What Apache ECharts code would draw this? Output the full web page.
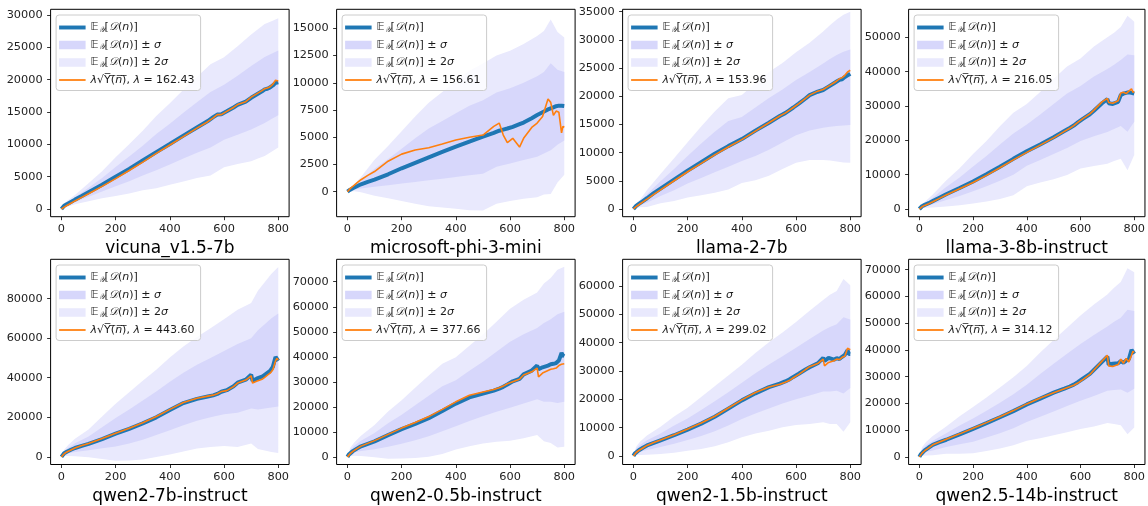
<!DOCTYPE html>
<html><head><meta charset="utf-8">
<script src="https://cdn.jsdelivr.net/npm/echarts@6/dist/echarts.min.js"></script>
<style>html,body{margin:0;padding:0;background:#fff}#c{width:1148px;height:506px}</style>
</head><body><div id="c"></div>
<script>
// ---------------- data ----------------
const X  = [0,5,10,20,35,50,75,100,150,200,250,300,350,400,450,500,540,560,575,590,610,635,650,680,700,705,720,740,750,760,770,780,790,795,800];
const XB = [0,10,25,50,100,150,200,250,300,350,400,450,500,550,600,650,700,725,750,775,800];
const XTICKS = [0,200,400,600,800];

const NAMES = ['vicuna_v1.5-7b','microsoft-phi-3-mini','llama-2-7b','llama-3-8b-instruct','qwen2-7b-instruct','qwen2-0.5b-instruct','qwen2-1.5b-instruct','qwen2.5-14b-instruct'];
const LAMBDAS = ['162.43','156.61','153.96','216.05','443.60','377.66','299.02','314.12'];

const YT_VICUNA = [0,5000,10000,15000,20000,25000,30000];
const YT_PHI    = [0,2500,5000,7500,10000,12500,15000];
const YT_LLAMA2 = [0,5000,10000,15000,20000,25000,30000,35000];
const YT_LLAMA3 = [0,10000,20000,30000,40000,50000];
const YT_Q7B    = [0,20000,40000,60000,80000];
const YT_Q05B   = [0,10000,20000,30000,40000,50000,60000,70000];
const YT_Q15B   = [0,10000,20000,30000,40000,50000,60000];
const YT_Q14B   = [0,10000,20000,30000,40000,50000,60000,70000];

const MEAN_VICUNA = [0,300,500,750,1100,1450,2000,2600,3750,5000,6200,7500,8800,10050,11350,12600,13600,14200,14600,14650,15100,15700,16100,16600,17200,17300,17700,18200,18500,18600,18800,19100,19500,19400,19600];
const FIT_VICUNA  = [0,150,300,550,900,1250,1800,2350,3500,4700,5950,7250,8600,9900,11200,12500,13500,14100,14600,14600,15100,15700,16150,16600,17300,17400,17800,18300,18600,18700,18900,19300,19900,19700,19800];
const SLO_VICUNA  = [0,300,650,1100,1900,2700,3500,4300,5200,6000,6900,7800,8700,9500,10700,11500,12300,12800,13300,13900,14500];
const SHI_VICUNA  = [0,700,1150,1800,3300,4800,6500,8100,9800,11600,13200,14900,16500,18100,19200,20600,22100,22800,23500,24000,24500];

const MEAN_PHI = [0,100,180,320,500,680,900,1100,1600,2150,2650,3150,3650,4130,4600,5050,5400,5600,5700,5800,5950,6200,6350,6750,7040,7100,7300,7550,7650,7750,7850,7900,7900,7850,7870];
const FIT_PHI  = [0,150,280,500,800,1100,1500,1850,2800,3450,3830,4040,4380,4750,5000,5200,6000,6300,5200,4500,4900,4100,4900,5900,6300,6450,6900,8500,8200,7000,7400,7300,5400,6000,5900];
const SLO_PHI  = [0,100,200,300,450,600,750,900,1050,1200,1350,1500,1650,2300,2600,2900,3200,3500,3800,4300,4700];
const SHI_PHI  = [0,260,500,1000,2100,3000,3950,4900,5800,6500,7200,7900,8400,9100,9500,10000,10600,11000,11800,11200,11000];

const MEAN_LLAMA2 = [0,300,550,900,1400,1900,2800,3600,5200,6800,8300,9800,11150,12400,13900,15300,16500,17000,17500,18000,18700,19600,20200,20800,21100,21200,21700,22300,22600,22900,23000,23400,23700,23900,24000];
const FIT_LLAMA2  = [0,200,400,750,1250,1750,2600,3400,5000,6600,8100,9600,11000,12300,13800,15300,16500,17000,17500,18000,18700,19600,20200,20900,21200,21300,21800,22400,22700,23100,23300,23700,24300,24500,24600];
const SLO_LLAMA2  = [0,350,650,1100,2300,3300,4500,5500,6500,7500,8500,9400,10500,11800,13100,13900,14400,14600,14700,14800,14900];
const SHI_LLAMA2  = [0,750,1350,2600,4900,7100,9400,11600,13700,15600,16300,18000,19700,21200,22900,24300,25800,26600,27300,27900,28300];

const MEAN_LLAMA3 = [0,500,800,1200,1700,2300,3300,4300,6100,8000,10100,12300,14600,16800,18800,20900,22700,23600,24300,25200,26300,27600,28600,30800,32000,30800,30600,31200,33200,33600,33800,34000,33800,33300,33600];
const FIT_LLAMA3  = [0,350,650,1050,1550,2100,3100,4100,5900,7700,9800,12000,14300,16500,18600,20700,22600,23500,24300,25200,26400,27700,28800,31200,32200,31000,30800,31500,33800,34000,33600,34300,35000,34000,34200];
const SLO_LLAMA3  = [0,500,900,1400,2600,3800,5200,6600,8200,10000,12600,14300,16000,17800,19800,21200,22400,23300,24200,22500,25400];
const SHI_LLAMA3  = [0,1100,1900,3300,6400,9200,12400,15400,18800,22000,24600,27500,30600,33600,35800,38600,40800,42000,43400,45000,44800];

const MEAN_Q7B = [0,1000,1800,2600,3600,4500,5600,6600,9000,11700,14200,16900,20000,23700,27200,29300,30500,31100,31800,32900,33700,35700,37500,39000,41500,38500,39500,40500,41500,42500,43500,45500,50500,49500,48500];
const FIT_Q7B  = [0,800,1600,2500,3500,4500,5700,6800,9300,12000,14500,17300,20400,24000,27500,29600,30700,31200,31900,33000,33500,35500,37300,38800,41000,37300,38200,39200,40200,41300,42300,44000,48500,49800,49000];
const SLO_Q7B  = [0,1200,1800,2500,3300,4300,5300,6800,8600,11000,13500,16000,18300,20000,21500,22300,24500,24000,24500,25000,25500];
const SHI_Q7B  = [0,2800,4600,6900,10300,15000,19700,24000,28500,33000,38000,42500,46500,50000,53500,57000,60000,64000,67000,70000,72500];

const MEAN_Q05B = [0,900,1500,2300,3300,4200,5200,6200,8700,11100,13200,15500,18300,21300,23800,25300,26500,27300,28000,28900,30200,31200,33000,34500,36500,35000,35800,36500,37000,37200,37500,38500,41500,40500,40200];
const FIT_Q05B  = [0,700,1300,2200,3300,4300,5400,6500,9000,11500,13700,16100,19000,22000,24600,25900,26900,27600,28300,29200,30000,31000,32700,34000,35500,32000,33500,34500,35000,35200,35500,36500,37000,36800,37200];
const SLO_Q05B  = [0,1100,1800,2400,3100,4000,5200,6600,8200,10200,12200,14300,16200,18000,19600,21300,23000,22000,22000,21500,22000];
const SHI_Q05B  = [0,2700,4400,6400,9500,13400,16800,20600,24400,28200,30600,34400,38000,42000,46000,49000,51500,53500,55000,57000,58000];

const MEAN_Q15B = [0,800,1400,2000,2900,3700,4600,5500,7300,9300,11400,13800,16700,19600,22100,24300,25500,26300,27000,27900,29000,30500,31300,32700,34600,33500,34600,34000,34500,34200,35000,35700,37300,36000,36000];
const FIT_Q15B  = [0,600,1200,1900,2800,3700,4700,5600,7500,9500,11600,14000,16900,19800,22400,24300,25300,26000,26600,27600,28800,30500,31500,32600,34200,31800,33000,33600,34200,34000,34800,35200,38000,38200,37500];
const SLO_Q15B  = [0,1000,1500,2100,3100,4300,5600,7000,8700,10700,13000,15000,16700,18500,20000,21300,22700,22700,23000,22000,24000];
const SHI_Q15B  = [0,2500,3900,5500,7900,10700,13200,16200,19300,22500,25800,29200,32300,35200,38200,41300,44300,45500,46500,49000,48200];

const MEAN_Q14B = [0,900,1600,2400,3500,4500,5500,6400,8400,10500,12600,14800,17100,19600,21800,24000,25500,26300,27000,27900,29300,31000,32500,35500,37500,34500,34800,35000,35800,35200,36000,36500,40000,39500,38500];
const FIT_Q14B  = [0,700,1400,2300,3400,4500,5600,6600,8600,10700,12800,15000,17300,19800,22000,24000,25500,26200,26800,27600,29000,30800,32500,35800,38000,34000,33800,34500,36500,35000,36800,35500,38000,39500,39000];
const SLO_Q14B  = [0,1200,1800,2400,3700,4700,5700,7200,8800,10700,13000,15000,17000,19000,21000,22800,24700,25000,25200,24000,25500];
const SHI_Q14B  = [0,2800,4300,6000,8800,11700,14300,17200,20200,23400,27000,31000,34800,38500,42200,45600,48700,50500,52000,55000,54500];

const MEANS = [MEAN_VICUNA,MEAN_PHI,MEAN_LLAMA2,MEAN_LLAMA3,MEAN_Q7B,MEAN_Q05B,MEAN_Q15B,MEAN_Q14B];
const FITS  = [FIT_VICUNA,FIT_PHI,FIT_LLAMA2,FIT_LLAMA3,FIT_Q7B,FIT_Q05B,FIT_Q15B,FIT_Q14B];
const SLOS  = [SLO_VICUNA,SLO_PHI,SLO_LLAMA2,SLO_LLAMA3,SLO_Q7B,SLO_Q05B,SLO_Q15B,SLO_Q14B];
const SHIS  = [SHI_VICUNA,SHI_PHI,SHI_LLAMA2,SHI_LLAMA3,SHI_Q7B,SHI_Q05B,SHI_Q15B,SHI_Q14B];
const YTS   = [YT_VICUNA,YT_PHI,YT_LLAMA2,YT_LLAMA3,YT_Q7B,YT_Q05B,YT_Q15B,YT_Q14B];
const YMIN  = [-1190,-2295,-1370,-2240,-3850,-3045,-3040,-2850];
const YMAX  = [30880,16745,35420,58150,99850,78970,69430,73850];

// ---------------- layout / style ----------------
const GL = [50.6, 336.6, 622.6, 908.6];
const GT = [9.3, 259.3];
const GW = 238.5, GH = 207.4;
const C_BLUE = '#1f77b4', C_ORANGE = '#ff7f0e', C_S1 = '#d7d7fb', C_S2 = '#e9e9fd';
const FONT = 'DejaVu Sans';

const ESUB = '{bb|\u{1D53C}}{sb|\u{1D4B4}}{r|[}{cal|\u{1D49F}}{r|(}{i|n}{r|)]}';
function legendText(name) {
  if (name === 'mean') return ESUB;
  if (name === 'sig1') return ESUB + '{r| \u00B1 }{i|\u03C3}';
  if (name === 'sig2') return ESUB + '{r| \u00B1 2}{i|\u03C3}';
  const k = +name.slice(3);
  return '{i|\u03BB}{rt|\u221A}{r|Y\u0305(\u0305}{i|n\u0305}{r|)\u0305}{r|, }{i|\u03BB}{r| = ' + LAMBDAS[k] + '}';
}
const RICH = {
  r:  {fontFamily: FONT, fontSize: 11, color: '#1a1a1a', lineHeight: 13},
  rt: {fontFamily: FONT, fontSize: 11, color: '#1a1a1a', lineHeight: 18},
  i:  {fontFamily: FONT, fontSize: 11, color: '#1a1a1a', fontStyle: 'italic', lineHeight: 13},
  bb: {fontFamily: FONT, fontSize: 11, color: '#1a1a1a', lineHeight: 13},
  cal:{fontFamily: FONT, fontSize: 11, color: '#1a1a1a', fontStyle: 'italic', lineHeight: 13},
  sb: {fontFamily: FONT, fontSize: 7.5, color: '#1a1a1a', fontStyle: 'italic', lineHeight: 8, verticalAlign: 'bottom'}
};

function bandSeries(k, name, loArr, hiArr, color, z) {
  return {
    type: 'custom', name, xAxisIndex: k, yAxisIndex: k, silent: true, z, animation: false,
    itemStyle: {color},
    data: XB.map((x, i) => [x, loArr[i], hiArr[i]]),
    encode: {x: 0, y: [1, 2]},
    renderItem: (params, api) => {
      if (params.dataIndex !== 0) return {type: 'group', children: []};
      const top = XB.map((x, i) => api.coord([x, hiArr[i]]));
      const bot = XB.map((x, i) => api.coord([x, loArr[i]])).reverse();
      return {type: 'polygon', shape: {points: top.concat(bot)}, style: {fill: color}};
    }
  };
}

const grid = [], xAxis = [], yAxis = [], series = [], legend = [];
for (let k = 0; k < 8; k++) {
  const r = Math.floor(k / 4), c = k % 4;
  grid.push({left: GL[c], top: GT[r], width: GW, height: GH, show: true, borderColor: '#000', borderWidth: 1, backgroundColor: 'transparent'});
  xAxis.push({
    type: 'value', gridIndex: k, min: -40, max: 840,
    name: NAMES[k], nameLocation: 'middle', nameGap: 23.5,
    nameTextStyle: {fontFamily: FONT, fontSize: 17, color: '#000'},
    axisLine: {show: false, onZero: false}, splitLine: {show: false},
    axisTick: {show: true, length: 3.5, customValues: XTICKS, lineStyle: {color: '#000', width: 0.8}},
    axisLabel: {customValues: XTICKS, margin: 7, fontFamily: FONT, fontSize: 11.3, color: '#222', formatter: v => String(v)}
  });
  yAxis.push({
    type: 'value', gridIndex: k, min: YMIN[k], max: YMAX[k],
    axisLine: {show: false, onZero: false}, splitLine: {show: false},
    axisTick: {show: true, length: 3.5, customValues: YTS[k], lineStyle: {color: '#000', width: 0.8}},
    axisLabel: {customValues: YTS[k], margin: 8, fontFamily: FONT, fontSize: 11.3, color: '#222', formatter: v => String(v)}
  });
  const lo = SLOS[k], hi = SHIS[k];
  const lo2 = lo.map((v, i) => v - (hi[i] - v) / 2);
  const hi2 = hi.map((v, i) => v + (v - lo[i]) / 2);
  series.push(bandSeries(k, 'sig2', lo2, hi2, C_S2, 1));
  series.push(bandSeries(k, 'sig1', lo, hi, C_S1, 2));
  const common = {type: 'line', xAxisIndex: k, yAxisIndex: k, symbol: 'none', showSymbol: false, silent: true, animation: false};
  series.push(Object.assign({}, common, {name: 'mean', lineStyle: {width: 4, color: C_BLUE}, itemStyle: {color: C_BLUE}, z: 3,
    data: X.map((x, i) => [x, MEANS[k][i]])}));
  series.push(Object.assign({}, common, {name: 'fit' + k, lineStyle: {width: 1.6, color: C_ORANGE}, itemStyle: {color: C_ORANGE}, z: 4,
    data: X.map((x, i) => [x, FITS[k][i]])}));
  legend.push({
    left: GL[c] + 5.5, top: GT[r] + 5.7, orient: 'vertical',
    itemWidth: 26.5, itemHeight: 8.5, itemGap: 5.5, padding: [7, 6, 5, 3],
    backgroundColor: 'rgba(255,255,255,0.8)', borderColor: '#cccccc', borderWidth: 1, borderRadius: 3,
    selectedMode: false, formatter: legendText, textStyle: {rich: RICH, fontFamily: FONT, fontSize: 11},
    data: [
      {name: 'mean', icon: 'path://M0,0h27v4h-27z', itemStyle: {color: C_BLUE, borderWidth: 0}},
      {name: 'sig1', icon: 'rect', itemStyle: {color: C_S1, borderWidth: 0}},
      {name: 'sig2', icon: 'rect', itemStyle: {color: C_S2, borderWidth: 0}},
      {name: 'fit' + k, icon: 'path://M0,0h27v1.8h-27z', itemStyle: {color: C_ORANGE, borderWidth: 0}}
    ]
  });
}

const chart = echarts.init(document.getElementById('c'), null, {renderer: 'canvas'});
chart.setOption({animation: false, backgroundColor: '#fff', textStyle: {fontFamily: FONT}, grid, xAxis, yAxis, series, legend});
</script></body></html>
